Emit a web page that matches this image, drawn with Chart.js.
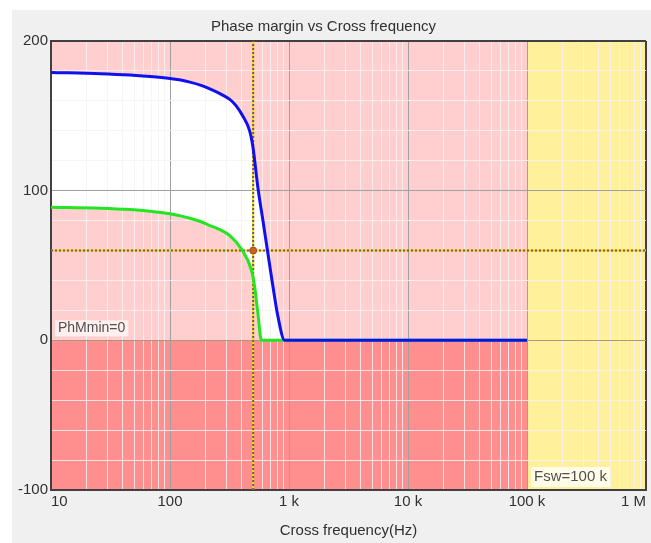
<!DOCTYPE html>
<html>
<head>
<meta charset="utf-8">
<script src="https://cdn.jsdelivr.net/npm/chart.js@4/dist/chart.umd.min.js"></script>
<style>
    html, body { margin: 0; padding: 0; background: #ffffff; }
    #frame { position: absolute; left: 12px; top: 10px; width: 639px; height: 533px; background: #f0f0f0; }
    #myChart { position: absolute; left: 0; top: 0; }
</style>
</head>
<body>
<div id="frame"></div>
<canvas id="myChart" width="651" height="543"></canvas>
<script>
// cross frequency (Hz) vs phase margin (deg)
const blueFreq = [10, 26, 46, 68, 100, 120, 147, 180, 216, 260, 318, 360, 408, 467, 498, 548, 604, 665, 733, 807, 919, 100000];
const bluePhase = [179, 178.2, 177.3, 176.3, 175, 174.1, 172.5, 170.5, 168, 165, 161, 156.7, 150, 140, 129, 102, 80, 58, 36, 16, 0, 0];
const greenFreq = [10, 26, 46, 68, 100, 120, 147, 180, 216, 262, 318, 398, 483, 514, 548, 586, 100000];
const greenPhase = [89, 88.3, 87.4, 86.3, 84.6, 83.3, 81.6, 79.4, 76.7, 74, 70, 61, 47, 36, 18, 0, 0];

// selected point (crosshair)
const crossFreq = 500;
const crossPhase = 60;

const fswFreq = 100000;
const phmMin = 0;

const xMin = 10, xMax = 1000000;
const yMin = -100, yMax = 200;
const xTickValues = [10, 100, 1000, 10000, 100000, 1000000];
const xTickLabels = ['10', '100', '1 k', '10 k', '100 k', '1 M'];
const yTickValues = [-100, 0, 100, 200];

const textColor = '#303030';
const fontFamily = "'Liberation Sans', Arial, sans-serif";

// log grid: 1..9 in every decade
const xGridValues = [];
for (let d = xMin; d < xMax; d *= 10) {
    for (let m = 1; m < 10; m++) xGridValues.push(d * m);
}
xGridValues.push(xMax);

const pts = (xs, ys) => xs.map((x, i) => ({ x: x, y: ys[i] }));

function gridColorX(ctx) {
    const v = ctx.tick && ctx.tick.value;
    if (v === xMin || v === xMax) return '#404040';
    if (xTickValues.includes(v)) return '#a0a0a0';
    return 'rgba(246,242,242,0.85)';
}

function gridColorY(ctx) {
    const v = ctx.tick && ctx.tick.value;
    if (v === yMin || v === yMax) return '#404040';
    if (v === phmMin) return '#a89a78';
    if (yTickValues.includes(v)) return '#a0a0a0';
    return 'rgba(246,242,242,0.85)';
}

// text boxes "PhMmin=0" and "Fsw=100 k"
const labelBoxes = {
    id: 'labelBoxes',
    afterDraw(chart) {
        const { ctx, scales: { x, y } } = chart;
        ctx.save();
        ctx.font = '14px ' + fontFamily;
        ctx.textBaseline = 'middle';

        let txt = 'PhMmin=' + phmMin;
        let w = ctx.measureText(txt).width + 6;
        let bx = x.left + 4, by = y.getPixelForValue(phmMin) - 20;
        ctx.fillStyle = 'rgba(255,242,242,0.9)';
        ctx.fillRect(bx, by, w, 16);
        ctx.fillStyle = '#505050';
        ctx.fillText(txt, bx + 3, by + 8);

        ctx.font = '15px ' + fontFamily;
        txt = 'Fsw=100 k';
        w = ctx.measureText(txt).width + 6;
        bx = x.getPixelForValue(fswFreq) + 4;
        by = y.bottom - 23;
        ctx.fillStyle = 'rgba(255,252,235,0.95)';
        ctx.fillRect(bx, by, w, 20);
        ctx.fillStyle = '#505050';
        ctx.fillText(txt, bx + 3, by + 10);
        ctx.restore();
    }
};

const lineDs = (data, color, extra) => Object.assign({
    data: data,
    borderColor: color,
    borderWidth: 3,
    pointRadius: 0,
    fill: false,
    cubicInterpolationMode: 'monotone'
}, extra || {});

const areaDs = (data, color, base) => ({
    data: data,
    borderColor: 'transparent',
    borderWidth: 0,
    pointRadius: 0,
    backgroundColor: color,
    fill: { value: base }
});

const straight = { borderWidth: 2, cubicInterpolationMode: 'default' };

const chart = new Chart(document.getElementById('myChart'), {
    type: 'line',
    data: {
        datasets: [
            // white area between the two curves
            lineDs(pts(blueFreq, bluePhase), '#1010ee', { fill: '+1', backgroundColor: '#ffffff' }),
            lineDs(pts(greenFreq, greenPhase), '#22e622'),
            {
                data: [{ x: crossFreq, y: crossPhase }],
                showLine: false,
                pointRadius: 3.5,
                pointBackgroundColor: '#c8641e',
                pointBorderColor: '#a05018',
                pointBorderWidth: 1
            },
            lineDs([{ x: crossFreq, y: yMin }, { x: crossFreq, y: yMax }], '#6a5a6a', Object.assign({ borderDash: [2, 2] }, straight)),
            lineDs([{ x: xMin, y: crossPhase }, { x: xMax, y: crossPhase }], '#6a5a6a', Object.assign({ borderDash: [2, 2] }, straight)),
            lineDs([{ x: crossFreq, y: yMin }, { x: crossFreq, y: yMax }], '#ffd800', straight),
            lineDs([{ x: xMin, y: crossPhase }, { x: xMax, y: crossPhase }], '#ffd800', straight),
            // background zones
            areaDs([{ x: xMin, y: yMax }, { x: fswFreq, y: yMax }], '#ffcfcf', phmMin),
            areaDs([{ x: xMin, y: phmMin }, { x: fswFreq, y: phmMin }], '#ff8f8f', yMin),
            areaDs([{ x: fswFreq, y: yMax }, { x: xMax, y: yMax }], '#fff09c', yMin)
        ]
    },
    options: {
        responsive: false,
        animation: false,
        events: [],
        layout: { padding: { left: 0, right: 4, top: 0, bottom: 0 } },
        plugins: {
            legend: { display: false },
            tooltip: { enabled: false },
            filler: { drawTime: 'beforeDraw' },
            title: {
                display: true,
                text: 'Phase margin vs Cross frequency',
                color: textColor,
                font: { family: fontFamily, size: 15, weight: 'normal' },
                padding: { top: 18, bottom: 5 }
            }
        },
        scales: {
            x: {
                type: 'logarithmic',
                min: xMin,
                max: xMax,
                afterBuildTicks: (scale) => { scale.ticks = xGridValues.map(v => ({ value: v })); },
                afterFit: (scale) => { scale.height = 53; },
                ticks: {
                    autoSkip: false,
                    maxRotation: 0,
                    align: 'inner',
                    padding: 3,
                    color: textColor,
                    font: { family: fontFamily, size: 15 },
                    callback: (v) => {
                        const i = xTickValues.indexOf(v);
                        return i >= 0 ? xTickLabels[i] : '';
                    }
                },
                grid: { color: gridColorX, lineWidth: (c) => (c.tick && (c.tick.value === xMin || c.tick.value === xMax)) ? 2 : 1, drawTicks: false },
                border: { display: true, color: '#404040', width: 2 },
                title: {
                    display: true,
                    text: 'Cross frequency(Hz)',
                    color: textColor,
                    font: { family: fontFamily, size: 15 },
                    padding: { top: 0, bottom: 3 }
                }
            },
            y: {
                min: yMin,
                max: yMax,
                afterFit: (scale) => { scale.width = 51; },
                ticks: {
                    stepSize: 20,
                    autoSkip: false,
                    padding: 3,
                    color: textColor,
                    font: { family: fontFamily, size: 15 },
                    callback: (v) => yTickValues.includes(v) ? String(v) : ''
                },
                grid: { color: gridColorY, lineWidth: (c) => (c.tick && (c.tick.value === yMin || c.tick.value === yMax)) ? 2 : 1, drawTicks: false },
                border: { display: true, color: '#404040', width: 2 }
            }
        }
    },
    plugins: [labelBoxes]
});
</script>
</body>
</html>
